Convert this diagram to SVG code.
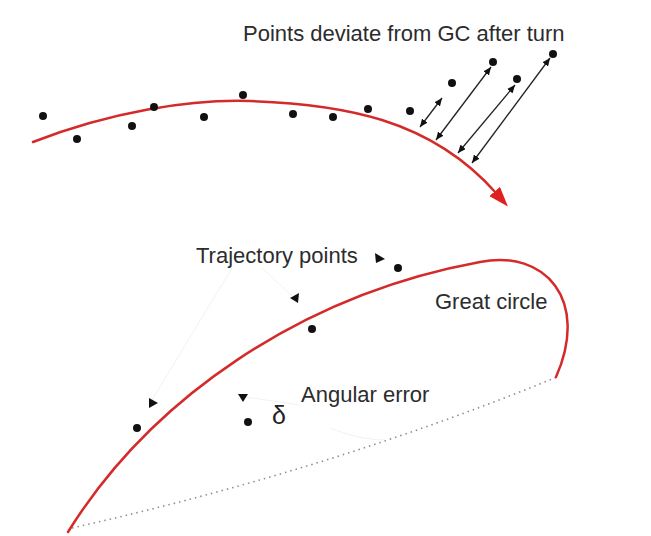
<svg xmlns="http://www.w3.org/2000/svg" width="651" height="536" viewBox="0 0 651 536">
  <defs>
    <style>
      .lbl { font-family: "Liberation Sans", Arial, sans-serif; font-size: 22px; fill: #2c2c2c; }
      .gc { fill: none; stroke: #d42a2a; stroke-width: 2.5; stroke-linecap: round; }
      .dot { fill: #111111; }
      .dev { stroke: #222222; stroke-width: 1.3; fill: none; marker-start: url(#ah); marker-end: url(#ah); }
      .tri { fill: #111111; }
      .faint { stroke: #f2f2f2; stroke-width: 1; fill: none; }
      .chord { fill: none; stroke: #8e8e8e; stroke-width: 1.6; stroke-dasharray: 1.5 4; }
    </style>
    <marker id="redHead" viewBox="0 0 20 14" refX="2" refY="7" markerWidth="20" markerHeight="14" markerUnits="userSpaceOnUse" orient="auto">
      <path d="M0,0 L20,7 L0,14 z" fill="#e02020"/>
    </marker>
    <marker id="ah" viewBox="0 0 8 7" refX="8" refY="3.5" markerWidth="8" markerHeight="7" markerUnits="userSpaceOnUse" orient="auto-start-reverse">
      <path d="M0,0 L8,3.5 L0,7 z" fill="#111111"/>
    </marker>
  </defs>
  <rect width="651" height="536" fill="#ffffff"/>

  <g id="connectors">
    <!-- faint leader lines -->
    <path class="faint" d="M232,268 L152,400"/>
    <path class="faint" d="M262,268 L292,296"/>
    <path class="faint" d="M300,405 L246,397"/>
    <path class="faint" d="M330,428 Q360,440 385,440"/>
    <!-- deviation arrows -->
    <line class="dev" x1="442" y1="98" x2="420" y2="127"/>
    <line class="dev" x1="491" y1="67" x2="436" y2="140"/>
    <line class="dev" x1="515" y1="85" x2="458" y2="153"/>
    <line class="dev" x1="550" y1="58" x2="472" y2="163"/>
  </g>

  <g id="top-trajectory">
    <path class="gc" d="M33,142 C110,112 190,99 250,101 C340,104 430,118 496,193" marker-end="url(#redHead)"/>
  </g>

  <g id="top-points">
    <circle class="dot" cx="43" cy="116" r="4"/>
    <circle class="dot" cx="77" cy="139" r="4"/>
    <circle class="dot" cx="132" cy="126" r="4"/>
    <circle class="dot" cx="154" cy="107" r="4"/>
    <circle class="dot" cx="204" cy="117" r="4"/>
    <circle class="dot" cx="243" cy="95" r="4"/>
    <circle class="dot" cx="293" cy="114" r="4"/>
    <circle class="dot" cx="333" cy="117" r="4"/>
    <circle class="dot" cx="368" cy="109" r="4"/>
    <circle class="dot" cx="410" cy="111" r="4"/>
    <circle class="dot" cx="452" cy="83" r="4"/>
    <circle class="dot" cx="493" cy="62" r="4"/>
    <circle class="dot" cx="517" cy="79" r="4"/>
    <circle class="dot" cx="553" cy="54" r="4"/>
  </g>

  <g id="label-deviate">
    <text class="lbl" x="243" y="41">Points deviate from GC after turn</text>
  </g>

  <g id="great-circle">
    <path class="chord" d="M72,528 Q330,470 557,377"/>
    <path class="gc" d="M68,532 C150,400 300,295 480,262 C545,249 590,300 556,377"/>
    <text class="lbl" x="435" y="309">Great circle</text>
  </g>

  <g id="trajectory-points">
    <text class="lbl" x="196" y="263">Trajectory points</text>
    <circle class="dot" cx="398" cy="268" r="4"/>
    <circle class="dot" cx="312" cy="329" r="4"/>
    <circle class="dot" cx="137" cy="428" r="4"/>
    <circle class="dot" cx="248" cy="422" r="4"/>
    <polygon class="tri" points="375,253 385,259 376,263"/>
    <polygon class="tri" points="290,298 299,293 298,303"/>
    <polygon class="tri" points="149,398 158,403 149,408"/>
    <polygon class="tri" points="238,394 248,394 243,402"/>
  </g>

  <g id="angular-error">
    <text class="lbl" x="301" y="402">Angular error</text>
    <text x="272" y="424" style="font-family: 'Liberation Sans', Arial, sans-serif; font-size: 25px; fill: #222222;">δ</text>
  </g>
</svg>
